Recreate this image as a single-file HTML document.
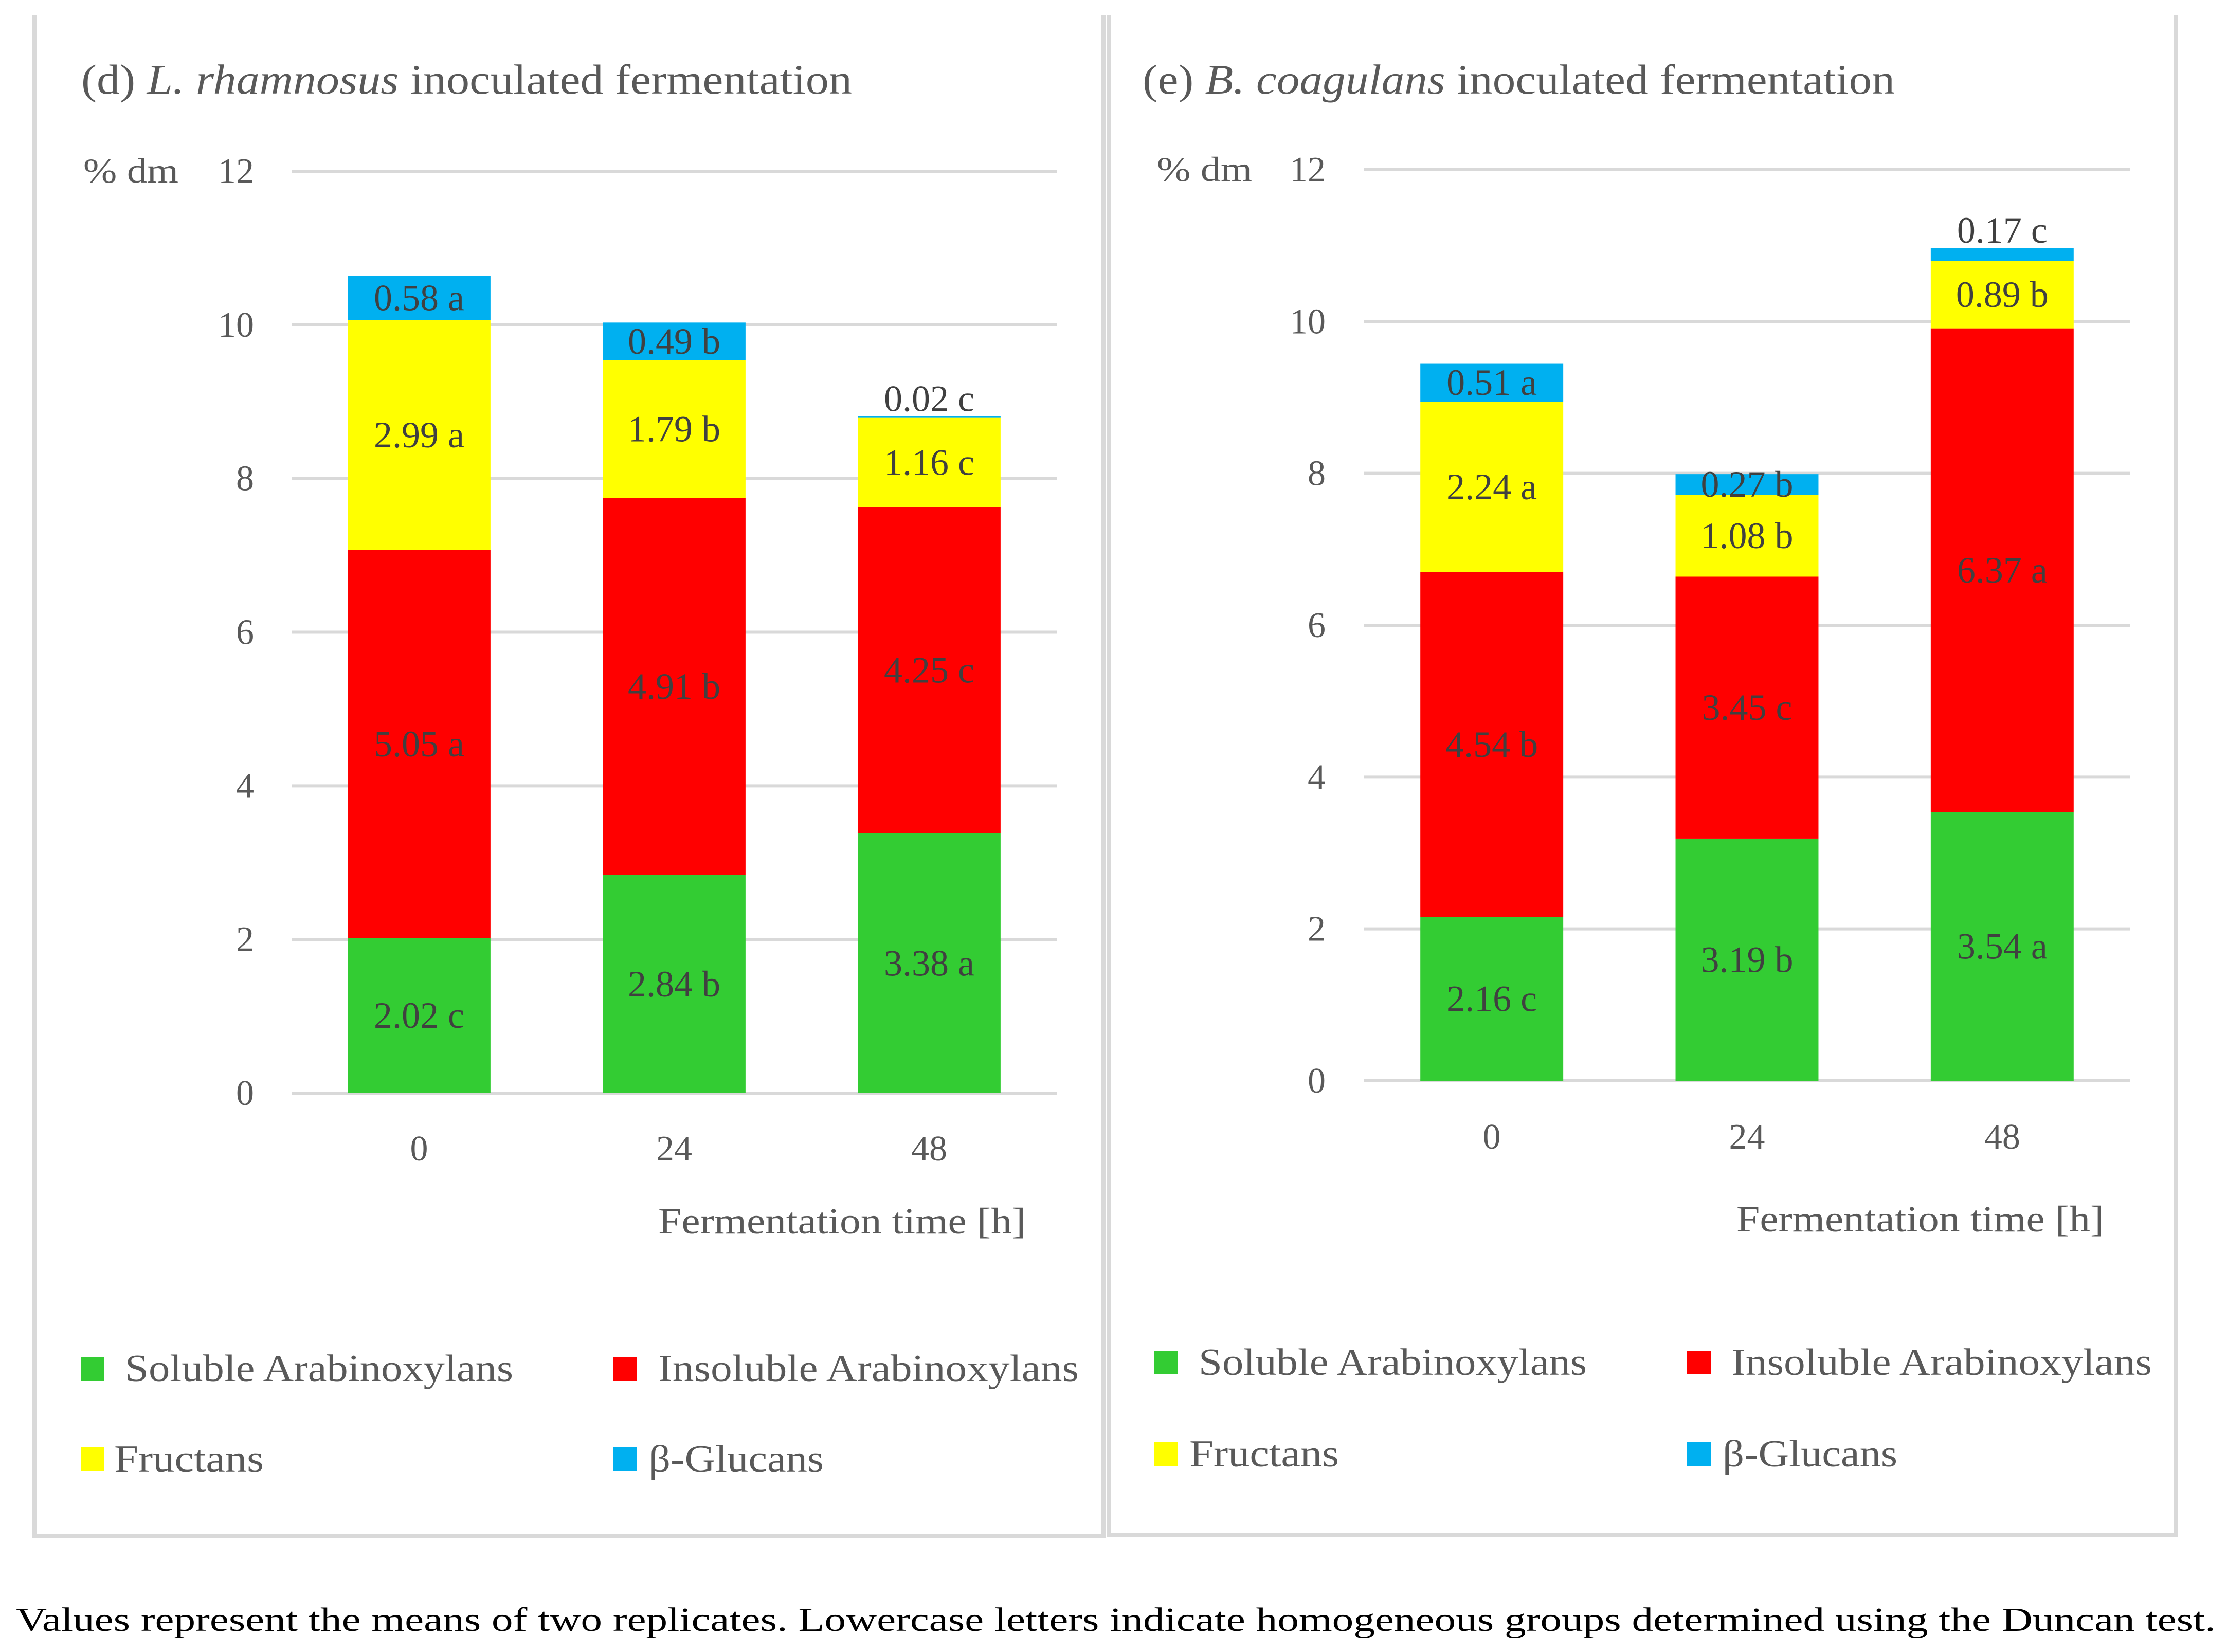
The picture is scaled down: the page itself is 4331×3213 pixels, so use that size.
<!DOCTYPE html>
<html><head><meta charset="utf-8">
<style>
html,body{margin:0;padding:0;background:#fff;}
svg{display:block;}
text{font-family:"Liberation Serif",serif;}
</style></head>
<body>
<svg id="fig" xmlns="http://www.w3.org/2000/svg" width="4331" height="3213" viewBox="0 0 4331 3213">
<rect x="0" y="0" width="4331" height="3213" fill="#fff"/>
<path d="M67 30 V2987 H2146 V30" fill="none" stroke="#d9d9d9" stroke-width="8"/>
<path d="M2157 30 V2986 H4232 V30" fill="none" stroke="#d9d9d9" stroke-width="8"/>
<text x="31" y="3172" font-size="66" fill="#000" textLength="4278" lengthAdjust="spacingAndGlyphs">Values represent the means of two replicates. Lowercase letters indicate homogeneous groups determined using the Duncan test.</text>
</svg>
<script>
const categories = ["0","24","48"];
const yTicks = [0,2,4,6,8,10,12];
const seriesNames = ["Soluble Arabinoxylans","Insoluble Arabinoxylans","Fructans","β-Glucans"];
const seriesColors = ["#33cc33","#ff0000","#ffff00","#00b0f0"];
const dSoluble = [2.02,2.84,3.38];
const dInsoluble = [5.05,4.91,4.25];
const dFructans = [2.99,1.79,1.16];
const dGlucans = [0.58,0.49,0.02];
const dSolubleLetters = ["c","b","a"];
const dInsolubleLetters = ["a","b","c"];
const dFructansLetters = ["a","b","c"];
const dGlucansLetters = ["a","b","c"];
const eSoluble = [2.16,3.19,3.54];
const eInsoluble = [4.54,3.45,6.37];
const eFructans = [2.24,1.08,0.89];
const eGlucans = [0.51,0.27,0.17];
const eSolubleLetters = ["c","b","a"];
const eInsolubleLetters = ["b","c","a"];
const eFructansLetters = ["a","b","b"];
const eGlucansLetters = ["a","b","c"];
const legendTextLengths = [755,818,291,340];

const NS="http://www.w3.org/2000/svg";
const svg=document.getElementById('fig');
function mk(tag,attrs,parent){const e=document.createElementNS(NS,tag);for(const k in attrs)e.setAttribute(k,attrs[k]);(parent||svg).appendChild(e);return e;}

function panel(cfg){
  const g=mk('g',{});
  
  
  const yScale=v=>cfg.y0+(cfg.y12-cfg.y0)*v/12;
  const band=(cfg.x1-cfg.x0)/categories.length;
  const xCenter=i=>cfg.x0+band*(i+0.5);
  const bw=band*0.56;
  const t=mk('text',{x:cfg.titleX,y:cfg.titleY,'font-size':82,fill:'#595959',textLength:cfg.titleLen,lengthAdjust:'spacingAndGlyphs'},g);
  
  
  t.innerHTML=cfg.titleHTML;
  const u=mk('text',{x:cfg.unitX,y:yScale(12)+22,'font-size':68,fill:'#595959',textLength:185,lengthAdjust:'spacingAndGlyphs'},g);
  
  
  u.textContent='% dm';
  yTicks.forEach(v=>{
    const y=yScale(v);
    const l=mk('line',{x1:cfg.x0,x2:cfg.x1,y1:y,y2:y,stroke:'#d9d9d9','stroke-width':6},g);
    
    
    const tx=mk('text',{x:cfg.tickX,y:y+23,'font-size':70,fill:'#595959','text-anchor':'end'},g);
    
    
    tx.textContent=v;
  });
  const series=[cfg.s,cfg.i,cfg.f,cfg.gl];
  const letters=[cfg.sl,cfg.il,cfg.fl,cfg.gll];
  const keys=['soluble','insoluble','fructans','glucans'];
  categories.forEach((c,ci)=>{
    let base=0;
    const xc=xCenter(ci);
    series.forEach((arr,si)=>{
      const v=arr[ci];
      const yTop=yScale(base+v), yBot=yScale(base);
      const r=mk('rect',{x:xc-bw/2,y:yTop,width:bw,height:Math.max(yBot-yTop,3),fill:seriesColors[si]},g);
      
      
      let ly=(yTop+yBot)/2+24;
      if(si===3 && v<0.2) ly=yTop-10;
      const lb=mk('text',{x:xc,y:ly,'font-size':72,fill:'#404040','text-anchor':'middle'},g);
      
      
      lb.textContent=v.toFixed(2)+' '+letters[si][ci];
      base+=v;
    });
    const xl=mk('text',{x:xc,y:cfg.xLabY+24,'font-size':70,fill:'#595959','text-anchor':'middle'},g);
    
    
    xl.textContent=c;
  });
  const at=mk('text',{x:cfg.axisTitleX-715,y:cfg.axisTitleY+24,'font-size':72,fill:'#595959',textLength:715,lengthAdjust:'spacingAndGlyphs'},g);
  
  
  at.textContent='Fermentation time [h]';
  cfg.legend.forEach((p,k)=>{
    const sw=mk('rect',{x:p[0],y:p[2]-23,width:46,height:46,fill:seriesColors[k]},g);
    
    
    const lt=mk('text',{x:p[1],y:p[2]+24,'font-size':74,fill:'#595959',textLength:legendTextLengths[k],lengthAdjust:'spacingAndGlyphs'},g);
    
    
    lt.textContent=seriesNames[k];
  });
}

panel({id:'panel-d-chart',x0:567,x1:2055,y0:2126,y12:333,tickX:494,unitX:162,
  titleX:158,titleY:182,titleLen:1499,titleHTML:'(d) <tspan font-style="italic">L. rhamnosus</tspan> inoculated fermentation',
  xLabY:2233,axisTitleX:1995,axisTitleY:2375,
  s:dSoluble,i:dInsoluble,f:dFructans,gl:dGlucans,sl:dSolubleLetters,il:dInsolubleLetters,fl:dFructansLetters,gll:dGlucansLetters,
  legend:[[157,243,2662],[1192,1280,2662],[157,222,2838],[1192,1262,2838]]});
panel({id:'panel-e-chart',x0:2653,x1:4142,y0:2102,y12:330,tickX:2578,unitX:2250,
  titleX:2222,titleY:182,titleLen:1463,titleHTML:'(e) <tspan font-style="italic">B. coagulans</tspan> inoculated fermentation',
  xLabY:2210,axisTitleX:4092,axisTitleY:2371,
  s:eSoluble,i:eInsoluble,f:eFructans,gl:eGlucans,sl:eSolubleLetters,il:eInsolubleLetters,fl:eFructansLetters,gll:eGlucansLetters,
  legend:[[2245,2331,2650],[3281,3367,2650],[2245,2313,2828],[3281,3350,2828]]});
</script>
</body></html>
